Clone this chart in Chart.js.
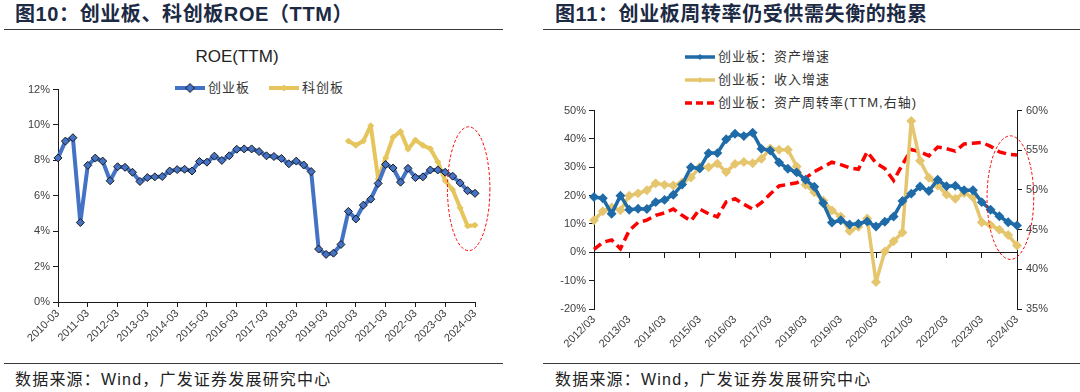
<!DOCTYPE html>
<html lang="zh-CN">
<head>
<meta charset="utf-8">
<title>创业板 ROE 与周转率</title>
<script src="https://cdn.jsdelivr.net/npm/chart.js@4.4.1/dist/chart.umd.min.js"></script>
<style>
  body { margin: 0; width: 1080px; height: 392px; background: #fff; position: relative; overflow: hidden;
         font-family: "Liberation Sans", "Noto Sans CJK SC", sans-serif; }
  .abs { position: absolute; white-space: nowrap; }
  .ttl { font-size: 20px; font-weight: 700; color: #1c2a44; line-height: 22px; top: 3px; letter-spacing: 0.6px; }
  .rule { height: 1px; background: #3a3a3a; }
  .src { font-size: 16px; color: #222; line-height: 20px; top: 370px; letter-spacing: 1.2px; }
  .leg { font-size: 13px; color: #333; line-height: 16px; display: flex; align-items: center; letter-spacing: 1px; }
  .leg svg { margin-right: 3px; }
  canvas { position: absolute; }
</style>
</head>
<body>

<!-- 图10 -->
<div class="abs ttl" style="left:15px">图10：创业板、科创板ROE（TTM）</div>
<div class="abs rule" style="left:4px; width:499px; top:29px"></div>
<div class="abs" style="left:137px; width:200px; top:47px; text-align:center; font-size:17px; line-height:20px; color:#222">ROE(TTM)</div>
<div class="abs leg" style="left:175px; top:80px">
  <svg width="30" height="12"><line x1="0" y1="6" x2="30" y2="6" stroke="#4472C4" stroke-width="4"/><polygon points="15,1.5 19.5,6 15,10.5 10.5,6" fill="#4472C4" stroke="#1a1a1a" stroke-width="1"/></svg>创业板
</div>
<div class="abs leg" style="left:269px; top:80px">
  <svg width="30" height="12"><line x1="0" y1="6" x2="30" y2="6" stroke="#E6C65C" stroke-width="4"/><polygon points="15,2.5 18.5,6 15,9.5 11.5,6" fill="#E6C65C"/></svg>科创板
</div>
<canvas id="roeChart" style="left:0; top:80px; width:500px; height:280px" width="500" height="280"></canvas>
<div class="abs rule" style="left:4px; width:499px; top:363px"></div>
<div class="abs src" style="left:15px">数据来源：Wind，广发证券发展研究中心</div>

<!-- 图11 -->
<div class="abs ttl" style="left:555px">图11：创业板周转率仍受供需失衡的拖累</div>
<div class="abs rule" style="left:543px; width:537px; top:29px"></div>
<div class="abs leg" style="left:685px; top:49px">
  <svg width="30" height="12"><line x1="0" y1="6" x2="30" y2="6" stroke="#1E6BA8" stroke-width="3.5"/><polygon points="15,3 18,6 15,9 12,6" fill="#1E6BA8"/></svg>创业板：资产增速
</div>
<div class="abs leg" style="left:685px; top:72px">
  <svg width="30" height="12"><line x1="0" y1="6" x2="30" y2="6" stroke="#E5C66E" stroke-width="3.5"/><polygon points="15,3 18,6 15,9 12,6" fill="#E5C66E"/></svg>创业板：收入增速
</div>
<div class="abs leg" style="left:685px; top:95px">
  <svg width="30" height="12"><line x1="0" y1="6" x2="30" y2="6" stroke="#FF0000" stroke-width="3.5" stroke-dasharray="7,4"/></svg>创业板：资产周转率(TTM,右轴)
</div>
<canvas id="turnChart" style="left:540px; top:100px; width:540px; height:260px" width="540" height="260"></canvas>
<div class="abs rule" style="left:543px; width:537px; top:363px"></div>
<div class="abs src" style="left:555px">数据来源：Wind，广发证券发展研究中心</div>

<script>
// ---------- 数据 ----------
// 图10：季度标签 2010-03 ~ 2024-03
const roeQuarters = [];
for (let y = 2010; y <= 2024; y++) {
    ['03', '06', '09', '12'].forEach(m => {
        if (y < 2024 || m === '03') roeQuarters.push(y + '-' + m);
    });
}

// 创业板 ROE(TTM), %
const roeChiNext = [
    8.14, 9.09, 9.28, 4.49, 7.72, 8.13, 7.96, 6.85, 7.64, 7.61,
    7.33, 6.81, 7.03, 7.07, 7.09, 7.40, 7.48, 7.50, 7.40, 7.94,
    7.90, 8.24, 8.00, 8.26, 8.63, 8.65, 8.65, 8.50, 8.26, 8.22,
    8.11, 7.81, 7.96, 7.74, 7.37, 2.99, 2.69, 2.76, 3.25, 5.12,
    4.69, 5.47, 5.81, 6.70, 7.77, 7.57, 6.77, 7.55, 7.03, 7.07,
    7.46, 7.46, 7.33, 7.11, 6.73, 6.29, 6.14
];

// 科创板 ROE(TTM), %，2019-12 起
const roeStar = [
    null, null, null, null, null, null, null, null, null, null,
    null, null, null, null, null, null, null, null, null, null,
    null, null, null, null, null, null, null, null, null, null,
    null, null, null, null, null, null, null, null, null, 9.09,
    8.85, 9.09, 9.96, 6.96, 8.14, 9.31, 9.63, 8.63, 9.15, 8.85,
    8.66, 7.92, 6.85, 6.35, 5.32, 4.30, 4.34
];

// 图11：季度标签 2012/03 ~ 2024/03
const turnQuarters = [];
for (let y = 2012; y <= 2024; y++) {
    ['03', '06', '09', '12'].forEach(m => {
        if (y < 2024 || m === '03') turnQuarters.push(y + '/' + m);
    });
}

// 资产增速, %
const assetGrowth = [
    19.5, 19.1, 13.6, 20.0, 15.0, 15.4, 15.3, 17.7, 18.5, 20.3,
    23.9, 30.0, 29.6, 35.0, 35.0, 39.9, 41.8, 41.0, 42.2, 36.5,
    35.9, 31.7, 29.5, 28.2, 25.6, 23.1, 17.4, 10.5, 11.3, 9.8,
    10.1, 10.9, 9.1, 10.8, 12.6, 18.1, 20.7, 23.2, 21.6, 25.6,
    23.3, 23.5, 21.9, 21.9, 17.7, 15.0, 12.7, 10.6, 9.5
];

// 收入增速, %
const revenueGrowth = [
    11.3, 14.5, 15.8, 14.8, 20.0, 20.8, 21.9, 24.4, 23.8, 23.6,
    24.6, 26.4, 30.1, 30.0, 31.3, 28.3, 31.2, 31.9, 31.4, 33.0,
    36.6, 36.2, 36.2, 30.3, 23.8, 21.2, 18.3, 14.8, 12.6, 7.5,
    9.0, 11.9, -10.5, 0.3, 3.9, 7.0, 46.3, 32.3, 26.3, 23.6,
    20.4, 18.9, 20.9, 19.4, 10.6, 9.6, 8.0, 6.1, 2.4
];

// 资产周转率(TTM, 右轴), %
const assetTurnover = [
    42.5, 43.4, 43.7, 42.6, 44.9, 45.9, 46.2, 46.8, 47.1, 47.6,
    46.8, 46.1, 47.6, 47.0, 46.6, 48.5, 48.9, 48.2, 47.6, 48.4,
    49.5, 50.5, 50.7, 50.9, 51.5, 52.3, 52.9, 53.5, 53.2, 52.8,
    52.6, 54.8, 53.4, 52.7, 51.2, 53.2, 55.1, 54.8, 54.3, 55.4,
    55.2, 54.9, 55.8, 55.9, 56.0, 55.5, 54.8, 54.5, 54.4
];

// ---------- 通用样式 ----------
const tickFont = { family: 'Liberation Sans', size: 11 };
const tickColor = '#404040';
const axisColor = '#1a1a1a';
const everyYear = (scale) => { scale.ticks = scale.ticks.filter((t, i) => i % 4 === 0); };

// 红色虚线椭圆（标注最新几期）
const ellipsePlugin = {
    id: 'ellipseMark',
    afterDraw(chart, args, opts) {
        if (!opts.box) return;
        const xs = chart.scales[opts.xID];
        const ys = chart.scales[opts.yID];
        const x1 = xs.getPixelForValue(opts.box[0]);
        const x2 = xs.getPixelForValue(opts.box[1]);
        const y1 = ys.getPixelForValue(opts.box[2]);
        const y2 = ys.getPixelForValue(opts.box[3]);
        const ctx = chart.ctx;
        ctx.save();
        ctx.strokeStyle = '#FF0000';
        ctx.lineWidth = 1;
        ctx.setLineDash([3, 2]);
        ctx.beginPath();
        ctx.ellipse((x1 + x2) / 2, (y1 + y2) / 2, Math.abs(x2 - x1) / 2, Math.abs(y2 - y1) / 2, 0, 0, Math.PI * 2);
        ctx.stroke();
        ctx.restore();
    }
};

// ---------- 图10 ----------
new Chart(document.getElementById('roeChart'), {
    type: 'line',
    data: {
        labels: roeQuarters,
        datasets: [
            {
                label: '创业板',
                data: roeChiNext,
                borderColor: '#4472C4',
                borderWidth: 4,
                borderJoinStyle: 'round',
                pointStyle: 'rectRot',
                pointRadius: 4,
                pointBackgroundColor: '#4472C4',
                pointBorderColor: '#1a1a1a',
                pointBorderWidth: 1,
                tension: 0
            },
            {
                label: '科创板',
                data: roeStar,
                borderColor: '#E6C65C',
                borderWidth: 4,
                borderJoinStyle: 'round',
                pointStyle: 'rectRot',
                pointRadius: 3,
                pointBackgroundColor: '#E6C65C',
                pointBorderColor: '#E6C65C',
                pointBorderWidth: 1,
                tension: 0
            }
        ]
    },
    options: {
        responsive: false,
        animation: false,
        layout: { padding: { top: 7, right: 25, left: 0, bottom: 0 } },
        plugins: {
            legend: { display: false },
            tooltip: { enabled: false },
            ellipseMark: { xID: 'x', yID: 'y', box: [52.3, 58.0, 9.9, 2.9] }
        },
        scales: {
            x: {
                offset: false,
                grid: { drawOnChartArea: false, tickLength: 5, color: axisColor },
                border: { color: axisColor },
                ticks: { autoSkip: false, minRotation: 45, maxRotation: 45, padding: 0, color: tickColor, font: tickFont },
                afterBuildTicks: everyYear,
                afterFit: (s) => { s.height = 58; }
            },
            y: {
                min: 0, max: 12,
                grid: { drawOnChartArea: false, tickLength: 5, color: axisColor },
                border: { color: axisColor },
                ticks: { stepSize: 2, padding: 3, color: tickColor, font: tickFont, callback: (v) => v + '%' },
                afterFit: (s) => { s.width = 58; }
            }
        }
    },
    plugins: [ellipsePlugin]
});

// ---------- 图11 ----------
new Chart(document.getElementById('turnChart'), {
    type: 'line',
    data: {
        labels: turnQuarters,
        datasets: [
            {
                label: '创业板：资产增速',
                data: assetGrowth,
                yAxisID: 'y',
                borderColor: '#1E6BA8',
                borderWidth: 3.5,
                borderJoinStyle: 'round',
                pointStyle: 'rectRot',
                pointRadius: 2.5,
                pointBackgroundColor: '#1E6BA8',
                pointBorderColor: '#1E6BA8',
                tension: 0
            },
            {
                label: '创业板：收入增速',
                data: revenueGrowth,
                yAxisID: 'y',
                borderColor: '#E5C66E',
                borderWidth: 3.5,
                borderJoinStyle: 'round',
                pointStyle: 'rectRot',
                pointRadius: 2.5,
                pointBackgroundColor: '#E5C66E',
                pointBorderColor: '#E5C66E',
                tension: 0
            },
            {
                label: '创业板：资产周转率(TTM,右轴)',
                data: assetTurnover,
                yAxisID: 'y2',
                borderColor: '#FF0000',
                borderWidth: 3.5,
                borderDash: [9, 5],
                pointRadius: 0,
                tension: 0
            }
        ]
    },
    options: {
        responsive: false,
        animation: false,
        layout: { padding: { top: 9, right: 0, left: 0, bottom: 0 } },
        plugins: {
            legend: { display: false },
            tooltip: { enabled: false },
            ellipseMark: { xID: 'x', yID: 'y', box: [44.6, 49.9, 41.1, -2.5] }
        },
        scales: {
            x: {
                offset: false,
                grid: { display: false, tickLength: 4 },
                border: { display: false },
                ticks: { autoSkip: false, minRotation: 45, maxRotation: 45, padding: 0, color: tickColor, font: tickFont },
                afterBuildTicks: everyYear,
                afterFit: (s) => { s.height = 51; }
            },
            // 0% 处的横轴线与刻度
            x2: {
                type: 'category',
                position: { y: 0 },
                offset: false,
                grid: { drawOnChartArea: false, tickLength: 5, color: axisColor },
                border: { color: axisColor },
                ticks: { display: false },
                afterBuildTicks: everyYear
            },
            y: {
                position: 'left',
                min: -20, max: 50,
                grid: { drawOnChartArea: false, tickLength: 5, color: axisColor },
                border: { color: axisColor },
                ticks: { stepSize: 10, padding: 3, color: tickColor, font: tickFont, callback: (v) => v + '%' },
                afterFit: (s) => { s.width = 54; }
            },
            y2: {
                position: 'right',
                min: 35, max: 60,
                grid: { drawOnChartArea: false, tickLength: 5, color: axisColor },
                border: { color: axisColor },
                ticks: { stepSize: 5, padding: 4, color: tickColor, font: tickFont, callback: (v) => v + '%' },
                afterFit: (s) => { s.width = 63; }
            }
        }
    },
    plugins: [ellipsePlugin]
});
</script>
</body>
</html>
